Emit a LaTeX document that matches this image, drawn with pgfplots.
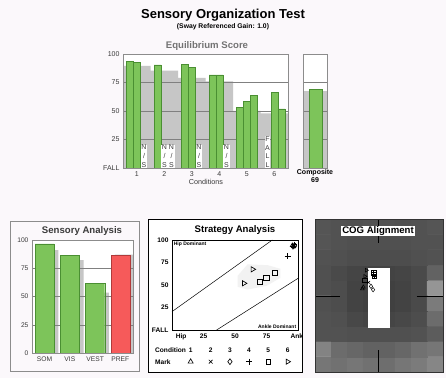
\documentclass[border=0pt]{standalone}
\usepackage{pgfplots}
\pgfplotsset{compat=1.18}
\usepackage{fontspec}
\setmainfont{Liberation Sans}
\definecolor{bg}{HTML}{FBF8FB}
\definecolor{norm}{HTML}{C6C6C6}
\definecolor{grn}{HTML}{7DC45A}
\definecolor{grnd}{HTML}{4A8F32}
\definecolor{redb}{HTML}{F65A5A}
\definecolor{redd}{HTML}{B03A3A}
\definecolor{gridc}{HTML}{808080}
\definecolor{framec}{HTML}{8C8C8C}
\definecolor{txt}{HTML}{3A3A3A}
\begin{document}
\begin{tikzpicture}[x=1pt,y=1pt,
 ns/.style={anchor=south, align=center, font=\fontsize{7}{8.6}\selectfont, fill=white, inner sep=0.6pt, text=txt}]
\fill[bg] (0,0) rectangle (446,378);
\node[font=\fontsize{13}{15}\selectfont\bfseries] at (223,362.5) {Sensory Organization Test};
\node[font=\fontsize{6.8}{8}\selectfont\bfseries] at (223,351) {(Sway Referenced Gain: 1.0)};
\node[font=\fontsize{9.6}{11}\selectfont\bfseries, text=black!55] at (207,332) {Equilibrium Score};

% ---------------- main equilibrium chart
\begin{axis}[at={(123pt,210pt)}, anchor=south west, scale only axis, width=165pt, height=114pt,
 xmin=0, xmax=6, ymin=0, ymax=100, axis on top,
 axis background/.style={fill=white},
 axis line style={framec, line width=0.5pt},
 xtick={0.5,1.5,2.5,3.5,4.5,5.5}, xticklabels={1,2,3,4,5,6},
 ytick={0,25,50,75,100}, yticklabels={FALL,25,50,75,100},
 major tick length=0pt,
 tick label style={font=\fontsize{7}{8}\selectfont, text=txt},
 /pgf/number format/assume math mode=true,
 clip=false]
\addplot[const plot, fill=norm, draw=none] coordinates {(0,89.5)(1,85.5)(2,79)(3,76)(4,50)(5,48)(6,48)} \closedcycle;
\addplot[gridc, line width=0.5pt] coordinates {(0,25)(6,25)};
\addplot[gridc, line width=0.5pt] coordinates {(0,50)(6,50)};
\addplot[gridc, line width=0.5pt] coordinates {(0,75)(6,75)};
\addplot[ybar, bar shift=0pt, bar width=0.2545, fill=grn, draw=grnd, line width=0.4pt] coordinates {
(0.2545,93.3)(0.509,92.6)(1.2545,90.5)(2.2545,91.2)(2.509,88.3)(3.2545,81.6)(3.509,81.6)
(4.2545,52.9)(4.509,58.2)(4.764,63.5)(5.509,66.4)(5.764,51.8)};
\node[ns] at (axis cs:0.764,0) {N\\/\\S};
\node[ns] at (axis cs:1.509,0) {N\\/\\S};
\node[ns] at (axis cs:1.764,0) {N\\/\\S};
\node[ns] at (axis cs:2.764,0) {N\\/\\S};
\node[ns] at (axis cs:3.764,0) {N\\/\\S};
\node[ns] at (axis cs:5.2545,0) {F\\A\\L\\L};
\end{axis}
\node[font=\fontsize{7.2}{8}\selectfont, text=txt] at (206,196.5) {Conditions};

% ---------------- composite
\begin{axis}[at={(303pt,210pt)}, anchor=south west, scale only axis, width=24pt, height=114pt,
 xmin=0, xmax=1, ymin=0, ymax=100, axis on top,
 axis background/.style={fill=white},
 axis line style={framec, line width=0.5pt}, xtick=\empty, ytick=\empty]
\addplot[fill=norm, draw=none] coordinates {(0,67.5)(1,67.5)} \closedcycle;
\addplot[gridc, line width=0.5pt] coordinates {(0,25)(1,25)};
\addplot[gridc, line width=0.5pt] coordinates {(0,50)(1,50)};
\addplot[gridc, line width=0.5pt] coordinates {(0,75)(1,75)};
\addplot[ybar, bar shift=0pt, bar width=0.54, fill=grn, draw=grnd, line width=0.4pt] coordinates {(0.52,69)};
\end{axis}
\node[font=\fontsize{7}{8}\selectfont\bfseries] at (315,205) {Composite};
\node[font=\fontsize{7}{8}\selectfont\bfseries] at (315,197.5) {69};

% ---------------- sensory analysis
\draw[framec, line width=0.7pt] (10,7) rectangle (139,157);
\node[font=\fontsize{9.6}{11}\selectfont\bfseries, text=txt] at (82,147) {Sensory Analysis};
\begin{axis}[at={(32pt,25pt)}, anchor=south west, scale only axis, width=101pt, height=113pt,
 xmin=-0.5, xmax=3.5, ymin=0, ymax=100, axis on top,
 axis background/.style={fill=white},
 axis line style={framec, line width=0.5pt},
 xtick={0,1,2,3}, xticklabels={SOM,VIS,VEST,PREF},
 ytick={0,25,50,75,100}, yticklabels={0,25,50,75,100},
 major tick length=0pt,
 tick label style={font=\fontsize{6.7}{8}\selectfont, text=txt}]
\addplot[ybar, bar shift=0pt, bar width=0.76, fill=norm, draw=none] coordinates {(0.16,91)(1.16,82.3)(2.16,53.4)(3.16,87)};
\addplot[gridc, line width=0.5pt] coordinates {(-0.5,25)(3.5,25)};
\addplot[gridc, line width=0.5pt] coordinates {(-0.5,50)(3.5,50)};
\addplot[gridc, line width=0.5pt] coordinates {(-0.5,75)(3.5,75)};
\addplot[ybar, bar shift=0pt, bar width=0.76, fill=grn, draw=grnd, line width=0.4pt] coordinates {(0,96.5)(1,86.7)(2,61.7)};
\addplot[ybar, bar shift=0pt, bar width=0.76, fill=redb, draw=redd, line width=0.4pt] coordinates {(3,86.7)};
\end{axis}

% ---------------- strategy analysis
\draw[black, line width=0.8pt, fill=white] (148,6) rectangle (302,159);
\node[font=\fontsize{9.6}{11}\selectfont\bfseries] at (235,148) {Strategy Analysis};
\begin{axis}[at={(172pt,48pt)}, anchor=south west, scale only axis, width=126pt, height=90pt,
 xmin=0, xmax=100, ymin=0, ymax=100, axis on top, clip=false,
 axis line style={black, line width=0.6pt},
 xtick={7.3,25,50,75,99}, xticklabels={Hip,25,50,75,Ank},
 ytick={0,25,50,75,100}, yticklabels={FALL,25,50,75,100},
 major tick length=0pt,
 tick label style={font=\fontsize{6.6}{7}\selectfont\bfseries},
 mk/.style={only marks, black, line width=0.65pt, mark size=3pt, mark options={fill=none}},
 lg/.style={only marks, black, line width=0.65pt, mark size=2.9pt}]
\addplot[fill=black!5, draw=none] coordinates {(52,48)(60,45)(75,49)(86,58)(86,68)(76,72)(60,73)(52,60)} -- cycle;
\addplot[black, line width=0.5pt] coordinates {(0,20.4)(79.6,100)};
\addplot[black, line width=0.5pt] coordinates {(35.4,0)(100,57.4)};
\addplot[mk, mark=triangle, mark options={rotate=-90}] coordinates {(64,67.4)(57.1,51.9)};
\addplot[mk, mark=square, mark size=2.7pt] coordinates {(69.8,53.3)(74.9,57.8)(81.7,63.7)};
\addplot[mk, mark=+] coordinates {(91.8,82.2)(97,95)};
\addplot[mk, mark=triangle, mark size=2.4pt] coordinates {(95.5,94)(96.5,93)};
\addplot[mk, mark=x, mark size=2.4pt] coordinates {(97,94.5)};
\addplot[mk, mark=diamond, mark size=2.4pt] coordinates {(96,92.5)(97.5,93.5)};
\node[anchor=north west, font=\fontsize{5}{6}\selectfont\bfseries, inner sep=1pt] at (axis cs:0.5,99) {Hip Dominant};
\node[anchor=south east, font=\fontsize{5}{6}\selectfont\bfseries, inner sep=1pt] at (axis cs:99.5,0.5) {Ankle Dominant};
% legend rows
\node[anchor=west, font=\fontsize{6.6}{7}\selectfont\bfseries, inner sep=0pt] at (axis cs:-13.5,-22.2) {Condition};
\node[anchor=west, font=\fontsize{6.6}{7}\selectfont\bfseries, inner sep=0pt] at (axis cs:-13.5,-35.2) {Mark};
\node[font=\fontsize{6.6}{7}\selectfont\bfseries] at (axis cs:14.8,-22.2) {1};
\node[font=\fontsize{6.6}{7}\selectfont\bfseries] at (axis cs:30.7,-22.2) {2};
\node[font=\fontsize{6.6}{7}\selectfont\bfseries] at (axis cs:46,-22.2) {3};
\node[font=\fontsize{6.6}{7}\selectfont\bfseries] at (axis cs:61.1,-22.2) {4};
\node[font=\fontsize{6.6}{7}\selectfont\bfseries] at (axis cs:76.4,-22.2) {5};
\node[font=\fontsize{6.6}{7}\selectfont\bfseries] at (axis cs:91.8,-22.2) {6};
\addplot[lg, mark=triangle] coordinates {(14.8,-35.2)};
\addplot[lg, mark=x, mark size=2.6pt] coordinates {(30.7,-35.2)};
\addplot[lg, mark=diamond] coordinates {(46,-35.2)};
\addplot[lg, mark=+, mark size=3pt] coordinates {(61.1,-35.2)};
\addplot[lg, mark=square, mark size=2.4pt] coordinates {(76.4,-35.2)};
\addplot[lg, mark=triangle, mark options={rotate=-90}] coordinates {(91.8,-35.2)};
\end{axis}

% ---------------- COG alignment
\begin{axis}[at={(315pt,6pt)}, anchor=south west, scale only axis, width=128pt, height=153pt,
 xmin=0, xmax=8, ymin=0, ymax=10, axis on top,
 axis line style={black!80, line width=0.8pt}, xtick=\empty, ytick=\empty,
 colormap/blackwhite, point meta min=0, point meta max=1,
 mk/.style={only marks, black, line width=0.5pt, mark size=2.2pt}]
\addplot[matrix plot*, mesh/cols=8, point meta=explicit] table[meta=c] {
x y c
0.5 0.5 0.46
1.5 0.5 0.44
2.5 0.5 0.46
3.5 0.5 0.44
4.5 0.5 0.43
5.5 0.5 0.46
6.5 0.5 0.48
7.5 0.5 0.52
0.5 1.5 0.51
1.5 1.5 0.42
2.5 1.5 0.40
3.5 1.5 0.38
4.5 1.5 0.38
5.5 1.5 0.40
6.5 1.5 0.44
7.5 1.5 0.46
0.5 2.5 0.32
1.5 2.5 0.32
2.5 2.5 0.31
3.5 2.5 0.31
4.5 2.5 0.31
5.5 2.5 0.31
6.5 2.5 0.32
7.5 2.5 0.36
0.5 3.5 0.32
1.5 3.5 0.31
2.5 3.5 0.28
3.5 3.5 0.27
4.5 3.5 0.27
5.5 3.5 0.28
6.5 3.5 0.30
7.5 3.5 0.42
0.5 4.5 0.31
1.5 4.5 0.30
2.5 4.5 0.26
3.5 4.5 0.25
4.5 4.5 0.25
5.5 4.5 0.26
6.5 4.5 0.29
7.5 4.5 0.48
0.5 5.5 0.31
1.5 5.5 0.30
2.5 5.5 0.26
3.5 5.5 0.25
4.5 5.5 0.25
5.5 5.5 0.26
6.5 5.5 0.29
7.5 5.5 0.58
0.5 6.5 0.31
1.5 6.5 0.29
2.5 6.5 0.27
3.5 6.5 0.26
4.5 6.5 0.26
5.5 6.5 0.27
6.5 6.5 0.29
7.5 6.5 0.38
0.5 7.5 0.32
1.5 7.5 0.31
2.5 7.5 0.30
3.5 7.5 0.30
4.5 7.5 0.30
5.5 7.5 0.30
6.5 7.5 0.31
7.5 7.5 0.32
0.5 8.5 0.33
1.5 8.5 0.32
2.5 8.5 0.31
3.5 8.5 0.31
4.5 8.5 0.31
5.5 8.5 0.31
6.5 8.5 0.32
7.5 8.5 0.32
0.5 9.5 0.33
1.5 9.5 0.32
2.5 9.5 0.31
3.5 9.5 0.32
4.5 9.5 0.32
5.5 9.5 0.31
6.5 9.5 0.32
7.5 9.5 0.33
};
\addplot[fill=white, draw=none] coordinates {(3.33,2.85)(4.69,2.85)(4.69,6.78)(3.33,6.78)} -- cycle;
\addplot[black, line width=0.6pt] coordinates {(3.94,10)(3.94,8.43)};
\addplot[black, line width=0.6pt] coordinates {(3.94,0)(3.94,1.44)};
\addplot[black, line width=0.6pt] coordinates {(0,4.92)(1.56,4.92)};
\addplot[black, line width=0.6pt] coordinates {(6.36,4.92)(8,4.92)};
\addplot[mk, mark=triangle] coordinates {(2.96,5.44)(3.02,5.55)};
\addplot[mk, mark=triangle, mark options={rotate=-90}] coordinates {(3.21,6.65)(3.12,6.25)};
\addplot[mk, mark=square] coordinates {(3.67,6.5)(3.72,6.25)(3.12,6.0)};
\addplot[mk, mark=+] coordinates {(3.67,6.5)(3.72,6.25)};
\addplot[mk, mark=x] coordinates {(3.35,5.85)};
\addplot[mk, mark=diamond] coordinates {(3.63,5.38)(3.5,5.6)};
\end{axis}
\node[fill=white, inner sep=1pt, font=\fontsize{9.6}{11}\selectfont\bfseries] at (378,147) {COG Alignment};
\end{tikzpicture}
\end{document}
